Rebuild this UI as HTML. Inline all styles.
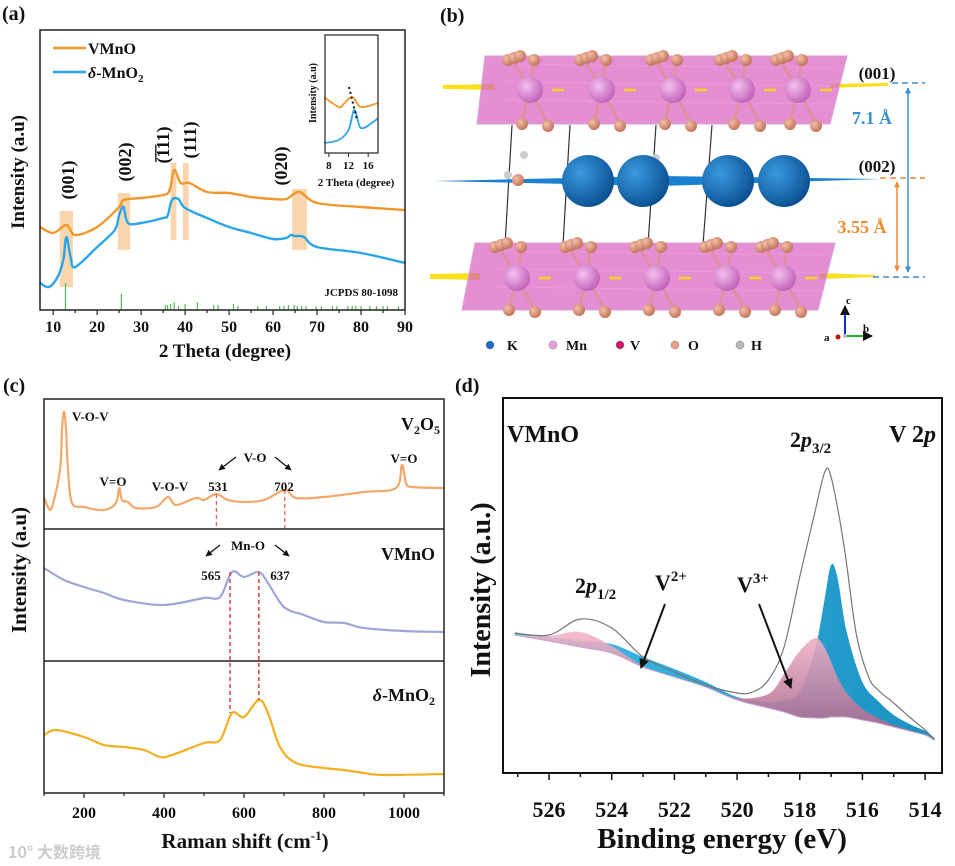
<!DOCTYPE html>
<html><head><meta charset="utf-8"><style>
html,body{margin:0;padding:0;background:#fff}
svg{display:block}
text{font-family:"Liberation Serif",serif;font-weight:bold;fill:#111}
</style></head><body>
<svg id="fig" width="955" height="866" viewBox="0 0 955 866" xmlns="http://www.w3.org/2000/svg">
<defs>
<marker id="ah" viewBox="0 0 10 10" refX="9" refY="5" markerWidth="5" markerHeight="5" orient="auto-start-reverse"><path d="M0,0L10,5L0,10z" fill="#111"/></marker>
<marker id="ahb" viewBox="0 0 10 10" refX="9" refY="5" markerWidth="4" markerHeight="4" orient="auto-start-reverse"><path d="M0,0L10,5L0,10z" fill="#3a8fd0"/></marker>
<marker id="aho" viewBox="0 0 10 10" refX="9" refY="5" markerWidth="4" markerHeight="4" orient="auto-start-reverse"><path d="M0,0L10,5L0,10z" fill="#f08a30"/></marker>
<linearGradient id="pinkg" x1="0" y1="0" x2="0" y2="1"><stop offset="0" stop-color="#f4b4c8" stop-opacity="0.88"/><stop offset="1" stop-color="#a06088" stop-opacity="0.92"/></linearGradient>
<linearGradient id="blueg" x1="0" y1="0" x2="1" y2="0"><stop offset="0" stop-color="#3ec0ee"/><stop offset="1" stop-color="#1a90c0"/></linearGradient>
<radialGradient id="kg" cx="0.35" cy="0.35" r="0.7"><stop offset="0" stop-color="#3a9ae0"/><stop offset="1" stop-color="#0a4f90"/></radialGradient>
<radialGradient id="mng" cx="0.35" cy="0.35" r="0.7"><stop offset="0" stop-color="#f6c0f0"/><stop offset="1" stop-color="#c060b8"/></radialGradient>
<radialGradient id="og" cx="0.35" cy="0.35" r="0.7"><stop offset="0" stop-color="#f4c0a8"/><stop offset="1" stop-color="#c07058"/></radialGradient>
</defs>

<text x="2" y="20" font-size="20">(a)</text>
<text x="440" y="22" font-size="20">(b)</text>
<text x="3" y="392" font-size="20">(c)</text>
<text x="455" y="392" font-size="20">(d)</text>

<g id="pa"></g>
<g id="pb"></g>
<g id="pc"></g>
<g id="pd"></g>
</svg>
<script>
// ===== Panel (a) XRD data =====
const aVMnOx=[7,10,13,15,20,25,26,30,35,36.5,37.5,39,41,45,50,55,60,63,66,70,80,90];
const aVMnOy=[83,77,85,75,83,103,110,112,115,120,140,127,127,118,117,113,111,111,118,107,103,100];
const aMnO2x=[7,9,11,12.3,13,14,15,20,24,25,26,27,30,35,36,37,38.5,40,45,50,55,60,63,64,65,67,70,80,90];
const aMnO2y=[27,23,33,50,73,52,43,63,80,95,103,87,87,92,94,110,111,102,92,83,77,71,72,75,74,73,63,57,47];
const aStickX=[12.8,25.5,35.5,36,36.7,37.5,38.5,40,42.8,46.5,47.5,51,52,56.5,58.5,61.5,62.5,63.5,64.8,65.5,66.5,67.5,69.8,71,73.5,74.5,77,78,78.8,80,82,83.5,85,86,88.5];
const aStickH=[27,16,5,5,6,8,4,6,8,5,5,6,4,4,4,4,4,5,5,4,4,4,4,4,4,4,4,4,4,4,4,4,4,4,4];
const aTicks=[10,20,30,40,50,60,70,80,90];
const aBands=[[11.5,14.5,23,99],[24.7,27.5,60,117],[36.7,38,70,147],[39.5,40.8,70,147],[64.3,67.7,60,121]];
const aPeakLabels=["(001)","(002)","(\u03051\u030511)","(111)","(020)"];
const insetX=[7,10,11,12.8,14.5,18];
const insetVMnO=[56,46,49,56,46,50];
const insetMnO2x=[7,10,12,13.2,14.5,17,18];
const insetMnO2y=[10,13,23,43,25,31,35];
const insetTicks=[8,12,16];
// ===== Panel (c) Raman data =====
const cV2O5x=[100,110,120,140,145,150,155,160,170,200,250,280,288,295,310,330,380,410,430,480,500,531,560,600,650,702,730,800,900,980,995,1005,1020,1100];
const cV2O5y=[32,22,22,59,100,117,100,59,26,22,19,26,41,29,27,21,22,32,24,31,29,35,29,27,29,39,31,32,37,41,64,46,42,41];
const cVMnOx=[100,150,200,250,300,400,500,540,570,600,637,660,700,750,800,850,900,1000,1100];
const cVMnOy=[93,81,74,68,61,56,63,64,89,84,89,78,54,46,39,38,33,30,29];
const cMnO2x=[100,130,200,250,300,350,390,420,500,540,570,600,637,660,690,730,800,850,900,950,1100];
const cMnO2y=[58,63,56,48,46,43,36,38,50,53,80,76,93,80,46,30,25,23,20,18,19];
const cTicks=[200,400,600,800,1000];
// ===== Panel (d) XPS data =====
const dEnvX=[527.1,526,525,524,523,522,521,520,519.5,519,518.5,518,517.5,517.2,517,516.6,516.2,515.8,515.5,515,514.5,514,513.7];
const dEnvY=[140,138,154,145,116,101,88,80,81,93,126,196,263,301,296,230,140,96,83,70,56,43,33];
const dGrid=[527.1,526,525,524,523,522,521,520,519,518.5,518,517.5,517.2,517,516.8,516.5,516,515.5,515,514.5,514,513.7];
const dBase=[138,132,126,120,106,96,86,73,65,61,56,55,55,56,56,56,53,50,46,42,38,33];
const dV3=[0,5,15,7,1,0,0,2,14,38,66,80,70,55,40,24,11,5,2,1,0,0];
const dV2=[2,4,6,9,10,8,5,3,6,12,25,70,120,152,140,85,38,22,12,7,4,2];
const dTicks=[526,524,522,520,518,516,514];

const NS="http://www.w3.org/2000/svg";
function mk(parent,tag,attrs,txt){const e=document.createElementNS(NS,tag);for(const k in attrs)e.setAttribute(k,attrs[k]);if(txt!==undefined)e.textContent=txt;parent.appendChild(e);return e;}
function lin(d0,d1,r0,r1){return v=>r0+(v-d0)*(r1-r0)/(d1-d0);}
function smooth(pts){let d="M"+pts[0][0].toFixed(1)+","+pts[0][1].toFixed(1);
 for(let i=0;i<pts.length-1;i++){const p0=pts[i-1]||pts[i],p1=pts[i],p2=pts[i+1],p3=pts[i+2]||p2;
  const c1=[p1[0]+(p2[0]-p0[0])/6,p1[1]+(p2[1]-p0[1])/6],c2=[p2[0]-(p3[0]-p1[0])/6,p2[1]-(p3[1]-p1[1])/6];
  d+="C"+c1[0].toFixed(1)+","+c1[1].toFixed(1)+" "+c2[0].toFixed(1)+","+c2[1].toFixed(1)+" "+p2[0].toFixed(1)+","+p2[1].toFixed(1);}
 return d;}
function pts(xs,ys,sx,sy){return xs.map((x,i)=>[sx(x),sy(ys[i])]);}

// ---------- Panel A ----------
(function(){
const g=document.getElementById('pa');
const sx=lin(7,90,40,405), sy=lin(0,280,310,30);
aBands.forEach((b,i)=>{const r=mk(g,'rect',{x:sx(b[0]),y:sy(b[3]),width:sx(b[1])-sx(b[0]),height:sy(b[2])-sy(b[3]),fill:'#f8c48c',opacity:0.7});
 
 });
const l1=mk(g,'path',{d:smooth(pts(aVMnOx,aVMnOy,sx,sy)),fill:'none',stroke:'#f0982c','stroke-width':2.4});


const l2=mk(g,'path',{d:smooth(pts(aMnO2x,aMnO2y,sx,sy)),fill:'none',stroke:'#2aa6e8','stroke-width':2.4});


aStickX.forEach((x,i)=>{const s=mk(g,'line',{x1:sx(x),x2:sx(x),y1:310,y2:310-aStickH[i],stroke:'#5cc05c','stroke-width':1.3});
 
 });
const lp=[[68,180],[125,162],[163,145],[190,140],[281,166]];
aPeakLabels.forEach((t,i)=>{const tx=mk(g,'text',{x:0,y:0,'font-size':18,'text-anchor':'middle',transform:`translate(${lp[i][0]+6},${lp[i][1]}) rotate(-90)`},t);
 
 });
mk(g,'text',{x:398,y:296,'font-size':11,'text-anchor':'end',},'JCPDS 80-1098');
mk(g,'rect',{x:40,y:30,width:365,height:280,fill:'none',stroke:'#222','stroke-width':1.5,});
for(let v=10;v<=90;v+=5){mk(g,'line',{x1:sx(v),x2:sx(v),y1:310,y2:v%10?313:315,stroke:'#222','stroke-width':1.2});}
aTicks.forEach(v=>{const t=mk(g,'text',{x:sx(v),y:332,'font-size':16,'text-anchor':'middle'},v);
 
 });
mk(g,'text',{x:225,y:357,'font-size':19,'text-anchor':'middle',},'2 Theta (degree)');
mk(g,'text',{x:0,y:0,'font-size':19,'text-anchor':'middle',transform:'translate(24,172) rotate(-90)',},'Intensity (a.u)');
mk(g,'line',{x1:53,x2:86,y1:48,y2:48,stroke:'#f0982c','stroke-width':2.5});
mk(g,'text',{x:88,y:54,'font-size':16,},'VMnO');
mk(g,'line',{x1:53,x2:86,y1:72,y2:72,stroke:'#2aa6e8','stroke-width':2.5});
const lt=mk(g,'text',{x:88,y:78,'font-size':16,});
lt.innerHTML='<tspan font-style="italic">δ</tspan>-MnO<tspan font-size="11" dy="4">2</tspan>';
const ix=lin(7,18,324,378), iy=lin(0,118,153,35);
const il1=mk(g,'path',{d:smooth(pts(insetX,insetVMnO,ix,iy)),fill:'none',stroke:'#f0982c','stroke-width':1.8});


const il2=mk(g,'path',{d:smooth(pts(insetMnO2x,insetMnO2y,ix,iy)),fill:'none',stroke:'#2aa6e8','stroke-width':1.8});


mk(g,'line',{x1:349,y1:87,x2:357,y2:120,stroke:'#111','stroke-width':2,'stroke-dasharray':'2,3',});
mk(g,'rect',{x:325,y:35,width:53,height:118,fill:'none',stroke:'#222','stroke-width':1.2,});
insetTicks.forEach(v=>{mk(g,'line',{x1:ix(v),x2:ix(v),y1:153,y2:157,stroke:'#222'});
 const t=mk(g,'text',{x:ix(v),y:169,'font-size':11,'text-anchor':'middle'},v);
 
 });
mk(g,'text',{x:356,y:186,'font-size':11,'text-anchor':'middle',},'2 Theta (degree)');
mk(g,'text',{x:0,y:0,'font-size':10,'text-anchor':'middle',transform:'translate(316,93) rotate(-90)',},'Intensity (a.u)');
})();

// ---------- Panel B (structure) ----------
(function(){
const g=document.getElementById('pb');
function layer(y0,y1,xl0,xr0,xl1,xr1,mnx,mny,name){
 const lg=mk(g,'g',{});
 mk(lg,'polygon',{points:`${xl0},${y0} ${xr0},${y0} ${xr1},${y1} ${xl1},${y1}`,fill:'#d860c0','fill-opacity':0.7,stroke:'#d8a0d8','stroke-width':1});
 for(let k=0;k<3;k++)mk(lg,'line',{x1:xl0+20,y1:y0+8+k*18,x2:xr0-10,y2:y0+12+k*18,stroke:'#f0a0e0','stroke-width':1,opacity:0.6});
 mnx.forEach(x=>{
  [[-18,y0+4],[4,y0+2],[-8,y1-2],[18,y1]].forEach(o=>{mk(lg,'line',{x1:x,y1:mny,x2:x+o[0],y2:o[1],stroke:'#e090a0','stroke-width':3});});
  for(let j=0;j<3;j++){mk(lg,'circle',{cx:x-22+j*6,cy:y0+4-j*2,r:6,fill:'url(#og)'});}
  mk(lg,'circle',{cx:x+4,cy:y0+4,r:6,fill:'url(#og)'});
  mk(lg,'circle',{cx:x-8,cy:y1,r:6,fill:'url(#og)'});
  mk(lg,'circle',{cx:x+18,cy:y1+2,r:6,fill:'url(#og)'});
  mk(lg,'circle',{cx:x,cy:mny,r:13,fill:'url(#mng)'});
  mk(lg,'line',{x1:x+22,x2:x+34,y1:mny,y2:mny,stroke:'#f8d020','stroke-width':2.5});
 });
}
mk(g,'polygon',{points:'443,85 495,84 495,90 443,89',fill:'#f8e020'});
mk(g,'polygon',{points:'830,84 888,83 888,86 830,88',fill:'#f8e020'});
mk(g,'polygon',{points:'430,274 480,273 480,280 430,279',fill:'#f8e020'});
mk(g,'polygon',{points:'820,273 875,275 875,277 820,279',fill:'#f8e020'});
[[512,125,505,245],[570,125,563,245],[656,125,648,245],[712,125,703,245]].forEach(l=>mk(g,'line',{x1:l[0],y1:l[1],x2:l[2],y2:l[3],stroke:'#333','stroke-width':1.2}));
layer(56,124,485,847,477,830,[530,602,673,742,798],90,'top-mno-layer');
mk(g,'polygon',{points:'435,181 660,176 880,179 660,186',fill:'#1a80d0',});
[[518,175],[650,178]].forEach(p=>{mk(g,'circle',{cx:p[0],cy:p[1]+5,r:6,fill:'url(#og)'});mk(g,'circle',{cx:p[0]+6,cy:p[1]-20,r:4,fill:'#ccc'});mk(g,'circle',{cx:p[0]-10,cy:p[1],r:4,fill:'#ccc'});});
[588,643,728,784].forEach(x=>{const c=mk(g,'circle',{cx:x,cy:181,r:26,fill:'url(#kg)'});
 
 });
layer(243,310,475,835,462,818,[517,587,657,727,783],278,'bottom-mno-layer');
mk(g,'line',{x1:892,x2:925,y1:83,y2:83,stroke:'#3a8fd0','stroke-width':1.5,'stroke-dasharray':'6,4'});
mk(g,'line',{x1:873,x2:925,y1:277,y2:277,stroke:'#3a8fd0','stroke-width':1.5,'stroke-dasharray':'6,4'});
mk(g,'line',{x1:880,x2:925,y1:178,y2:178,stroke:'#f08a30','stroke-width':1.5,'stroke-dasharray':'6,4'});
mk(g,'line',{x1:908,x2:908,y1:88,y2:272,stroke:'#3a8fd0','stroke-width':1.5,'marker-start':'url(#ahb)','marker-end':'url(#ahb)'});
mk(g,'line',{x1:897,x2:897,y1:182,y2:271,stroke:'#f08a30','stroke-width':1.5,'marker-start':'url(#aho)','marker-end':'url(#aho)'});
mk(g,'text',{x:877,y:79,'font-size':17,'text-anchor':'middle',},'(001)');
mk(g,'text',{x:877,y:172,'font-size':17,'text-anchor':'middle',},'(002)');
mk(g,'text',{x:872,y:124,'font-size':18,'text-anchor':'middle',style:'fill:#3a8fd0',},'7.1 Å');
mk(g,'text',{x:862,y:233,'font-size':18,'text-anchor':'middle',style:'fill:#f08a30',},'3.55 Å');
const leg=[['K','#1a70c8',490,507],['Mn','#e8a0e0',553,566],['V','#d01870',620,630],['O','#e8a088',675,688],['H','#bbb',740,751]];
leg.forEach(l=>{mk(g,'circle',{cx:l[2],cy:345,r:4,fill:l[1],stroke:'#777','stroke-width':0.5});
 const t=mk(g,'text',{x:l[3],y:350,'font-size':14},l[0]);
 
 });
mk(g,'line',{x1:845,y1:336,x2:845,y2:306,stroke:'#1030c0','stroke-width':2,'marker-end':'url(#ah)'});
mk(g,'line',{x1:845,y1:336,x2:872,y2:336,stroke:'#20b020','stroke-width':2,'marker-end':'url(#ah)'});
mk(g,'circle',{cx:838,cy:337,r:2.5,fill:'#c01010'});mk(g,'circle',{cx:845,cy:336,r:2,fill:'#bbb'});
mk(g,'text',{x:846,y:304,'font-size':11},'c');mk(g,'text',{x:863,y:332,'font-size':11},'b');mk(g,'text',{x:824,y:341,'font-size':11},'a');
})();

// ---------- Panel C ----------
(function(){
const g=document.getElementById('pc');
const sx=lin(100,1100,44,444);
const panels=[[cV2O5x,cV2O5y,529,'#f4a868','v2o5-raman-line'],[cVMnOx,cVMnOy,661,'#9ea6d8','vmno-raman-line'],[cMnO2x,cMnO2y,793,'#f0b020','mno2-raman-line']];
panels.forEach(p=>{const sy=lin(0,130,p[2],p[2]-130);
 const l=mk(g,'path',{d:smooth(pts(p[0],p[1],sx,sy)),fill:'none',stroke:p[3],'stroke-width':2.2});
 
 });
const syA=lin(0,130,529,399), syB=lin(0,130,661,531);
[531,702].forEach(v=>mk(g,'line',{x1:sx(v),x2:sx(v),y1:syA(v===531?35:39),y2:529,stroke:'#e86060','stroke-width':1.3,'stroke-dasharray':'4,3'}));
[[565,713],[637,700]].forEach(v=>mk(g,'line',{x1:sx(v[0]),x2:sx(v[0]),y1:syB(89),y2:v[1],stroke:'#d84040','stroke-width':1.5,'stroke-dasharray':'4,3'}));
mk(g,'rect',{x:44,y:399,width:400,height:394,fill:'none',stroke:'#222','stroke-width':1.5,});
mk(g,'line',{x1:44,x2:444,y1:529,y2:529,stroke:'#222','stroke-width':1.5});
mk(g,'line',{x1:44,x2:444,y1:661,y2:661,stroke:'#222','stroke-width':1.5});
for(let v=100;v<=1100;v+=100){mk(g,'line',{x1:sx(v),x2:sx(v),y1:793,y2:v%200?796:798,stroke:'#222','stroke-width':1.2});}
cTicks.forEach(v=>{const t=mk(g,'text',{x:sx(v),y:818,'font-size':16,'text-anchor':'middle'},v);
 
 });
const xt=mk(g,'text',{x:245,y:848,'font-size':21,'text-anchor':'middle',});
xt.innerHTML='Raman shift (cm<tspan font-size="13" dy="-8">-1</tspan><tspan dy="8">)</tspan>';
mk(g,'text',{x:0,y:0,'font-size':21,'text-anchor':'middle',transform:'translate(26,570) rotate(-90)',},'Intensity (a.u)');
const T=(x,y,s,t,a,n)=>mk(g,'text',{x:x,y:y,'font-size':s,'text-anchor':a||'start',},t);
T(72,421,13,'V-O-V','start','v-o-v-label-1');
T(113,486,13,'V=O','middle','v-eq-o-label-1');
T(170,491,13,'V-O-V','middle','v-o-v-label-2');
T(218,491,13,'531','middle','peak-531-label');
T(255,462,13,'V-O','middle','v-o-label');
T(284,491,13,'702','middle','peak-702-label');
T(404,463,13,'V=O','middle','v-eq-o-label-2');
const v2=mk(g,'text',{x:440,y:430,'font-size':18,'text-anchor':'end',});
v2.innerHTML='V<tspan font-size="12" dy="4">2</tspan><tspan dy="-4">O</tspan><tspan font-size="12" dy="4">5</tspan>';
T(248,550,13,'Mn-O','middle','mn-o-label');
T(211,580,13,'565','middle','peak-565-label');
T(280,580,13,'637','middle','peak-637-label');
T(435,560,18,'VMnO','end','vmno-label');
const d2=mk(g,'text',{x:435,y:701,'font-size':18,'text-anchor':'end',});
d2.innerHTML='<tspan font-style="italic">δ</tspan>-MnO<tspan font-size="12" dy="4">2</tspan>';
[[219,470,236,457],[291,470,275,457],[206,556,220,545],[289,556,275,545]].forEach(a=>mk(g,'line',{x1:a[0],y1:a[1],x2:a[2],y2:a[3],stroke:'#111','stroke-width':1.3,'marker-start':'url(#ah)'}));
mk(g,'text',{x:8,y:858,'font-size':16,style:'fill:#ccc;font-family:\"Noto Sans CJK SC\",sans-serif',},'10° 大数跨境');
})();

// ---------- Panel D ----------
(function(){
const g=document.getElementById('pd');
const sx=lin(527.47,513.46,503,942), sy=lin(0,375,773,398);
function area(top,name,fill){
 const up=dGrid.map((x,i)=>[sx(x),sy(dBase[i]+top[i])]);
 const dn=dGrid.map((x,i)=>[sx(x),sy(dBase[i])]).reverse();
 const d=smooth(up)+"L"+smooth(dn).slice(1)+"Z";
 const p=mk(g,'path',{d:d,fill:fill});
 
 
}
area(dV2,'v2plus-component','url(#blueg)');
area(dV3,'v3plus-component','url(#pinkg)');
const bl=mk(g,'path',{d:smooth(dGrid.map((x,i)=>[sx(x),sy(dBase[i])])),fill:'none',stroke:'#c8a0c8','stroke-width':1});


const env=mk(g,'path',{d:smooth(pts(dEnvX,dEnvY,sx,sy)),fill:'none',stroke:'#777','stroke-width':1.2});


mk(g,'rect',{x:503,y:398,width:439,height:375,fill:'none',stroke:'#111','stroke-width':2,});
for(let v=527;v>=514;v--){mk(g,'line',{x1:sx(v),x2:sx(v),y1:773,y2:v%2?777:780,stroke:'#111','stroke-width':1.5});}
dTicks.forEach(v=>{const t=mk(g,'text',{x:sx(v),y:817,'font-size':22,'text-anchor':'middle'},v);
 
 });
mk(g,'text',{x:722,y:848,'font-size':29,'text-anchor':'middle',},'Binding energy (eV)');
mk(g,'text',{x:0,y:0,'font-size':28,'text-anchor':'middle',transform:'translate(490,590) rotate(-90)',},'Intensity (a.u.)');
mk(g,'text',{x:507,y:442,'font-size':24,},'VMnO');
const v2p=mk(g,'text',{x:936,y:442,'font-size':24,'text-anchor':'end',});
v2p.innerHTML='V 2<tspan font-style="italic">p</tspan>';
const p32=mk(g,'text',{x:790,y:447,'font-size':22,});
p32.innerHTML='2<tspan font-style="italic">p</tspan><tspan font-size="15" dy="6">3/2</tspan>';
const p12=mk(g,'text',{x:575,y:593,'font-size':22,});
p12.innerHTML='2<tspan font-style="italic">p</tspan><tspan font-size="15" dy="6">1/2</tspan>';
const v2l=mk(g,'text',{x:655,y:590,'font-size':22,});
v2l.innerHTML='V<tspan font-size="15" dy="-9">2+</tspan>';
const v3l=mk(g,'text',{x:737,y:592,'font-size':22,});
v3l.innerHTML='V<tspan font-size="15" dy="-9">3+</tspan>';
mk(g,'line',{x1:665,y1:604,x2:641,y2:668,stroke:'#111','stroke-width':2,'marker-end':'url(#ah)',});
mk(g,'line',{x1:759,y1:604,x2:791,y2:688,stroke:'#111','stroke-width':2,'marker-end':'url(#ah)',});
})();
</script>
</body></html>
